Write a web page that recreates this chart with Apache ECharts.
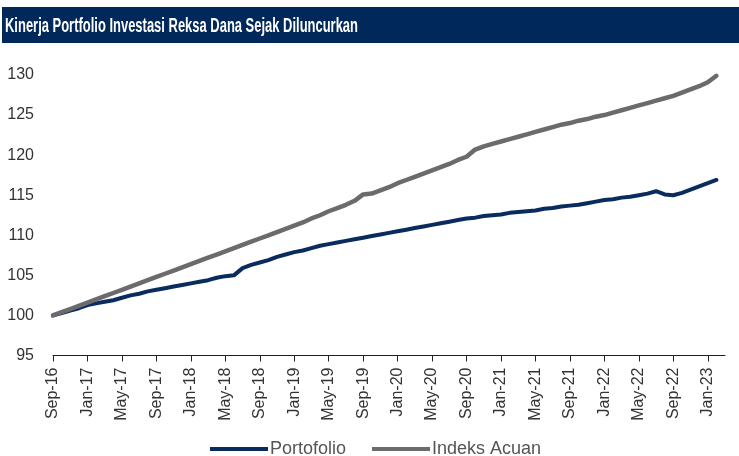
<!DOCTYPE html>
<html>
<head>
<meta charset="utf-8">
<script src="https://cdn.jsdelivr.net/npm/echarts@6/dist/echarts.min.js"></script>
<style>
    html, body { margin: 0; padding: 0; background: #fff; }
    #myChart { width: 739px; height: 456px; }
</style>
</head>
<body>
<div id="myChart"></div>
<script>
// monthly labels Sep-16 .. Mar-23
const months = ['Jan', 'Feb', 'Mar', 'Apr', 'May', 'Jun', 'Jul', 'Aug', 'Sep', 'Oct', 'Nov', 'Dec'];
const dates = [];
for (let i = 0; i < 79; i++) {
    const m = (8 + i) % 12;
    const y = 16 + Math.floor((8 + i) / 12);
    dates.push(months[m] + '-' + y);
}

const portofolio = [
    100.0, 100.3, 100.6, 100.9, 101.3, 101.5, 101.7, 101.9, 102.2, 102.5,
    102.7, 103.0, 103.2, 103.4, 103.6, 103.8, 104.0, 104.2, 104.4, 104.7,
    104.9, 105.0, 105.9, 106.3, 106.6, 106.9, 107.3, 107.6, 107.9, 108.1,
    108.4, 108.7, 108.9, 109.1, 109.3, 109.5, 109.7, 109.9, 110.1, 110.3,
    110.5, 110.7, 110.9, 111.1, 111.3, 111.5, 111.7, 111.9, 112.1, 112.2,
    112.4, 112.5, 112.6, 112.8, 112.9, 113.0, 113.1, 113.3, 113.4, 113.6,
    113.7, 113.8, 114.0, 114.2, 114.4, 114.5, 114.7, 114.8, 115.0, 115.2,
    115.5, 115.1, 115.0, 115.3, 115.7, 116.1, 116.5, 116.9
];

const indeksAcuan = [
    100.0, 100.4, 100.8, 101.2, 101.6, 102.0, 102.4, 102.8, 103.2, 103.6,
    104.0, 104.4, 104.8, 105.2, 105.6, 106.0, 106.4, 106.8, 107.2, 107.6,
    108.0, 108.4, 108.8, 109.2, 109.6, 110.0, 110.4, 110.8, 111.2, 111.6,
    112.1, 112.5, 113.0, 113.4, 113.8, 114.3, 115.1, 115.2, 115.6, 116.0,
    116.5, 116.9, 117.3, 117.7, 118.1, 118.5, 118.9, 119.4, 119.8, 120.7,
    121.1, 121.4, 121.7, 122.0, 122.3, 122.6, 122.9, 123.2, 123.5, 123.8,
    124.0, 124.3, 124.5, 124.8, 125.0, 125.3, 125.6, 125.9, 126.2, 126.5,
    126.8, 127.1, 127.4, 127.8, 128.2, 128.6, 129.1, 129.9
];

const titleText = 'Kinerja Portfolio Investasi Reksa Dana Sejak Diluncurkan';
const titleFont = 'bold 20px "Liberation Sans Narrow", "Liberation Sans", Arial';

// title is a condensed font, squeeze it to the reference width
const ctx = document.createElement('canvas').getContext('2d');
ctx.font = titleFont;
const titleScale = 353 / ctx.measureText(titleText).width;

const baseFont = '"Liberation Sans", Arial, sans-serif';

let myChart = echarts.init(document.getElementById('myChart'));
let option = {
    animation: false,
    backgroundColor: '#fff',
    graphic: [
        {
            type: 'rect',
            left: 2,
            top: 7,
            shape: { width: 737, height: 36 },
            style: { fill: '#00285a' }
        },
        {
            type: 'text',
            x: 5,
            y: 26,
            scaleX: titleScale,
            style: {
                text: titleText,
                font: titleFont,
                fill: '#fff',
                textVerticalAlign: 'middle'
            }
        }
    ],
    legend: {
        data: ['Portofolio', 'Indeks Acuan'],
        left: 205,
        top: 435,
        icon: 'rect',
        itemWidth: 58,
        itemHeight: 4,
        itemGap: 26,
        textStyle: {
            color: '#555',
            fontSize: 18,
            fontFamily: baseFont,
            padding: [0, 0, 0, -3]
        }
    },
    grid: {
        left: 53,
        right: 14,
        top: 75,
        bottom: 100.5
    },
    xAxis: {
        type: 'category',
        data: dates,
        boundaryGap: false,
        axisLine: { lineStyle: { color: '#222', width: 1 } },
        axisTick: { interval: 3, length: 6, lineStyle: { color: '#222' } },
        axisLabel: {
            interval: 3,
            rotate: 90,
            margin: 12,
            color: '#333',
            fontSize: 16,
            fontFamily: baseFont
        },
        splitLine: { show: false }
    },
    yAxis: {
        type: 'value',
        min: 95,
        max: 130,
        interval: 5,
        axisLine: { show: false },
        axisTick: { show: false },
        splitLine: { show: false },
        axisLabel: {
            margin: 19,
            color: '#333',
            fontSize: 16,
            fontFamily: baseFont
        }
    },
    series: [
        {
            name: 'Portofolio',
            type: 'line',
            symbol: 'none',
            data: portofolio,
            itemStyle: { color: '#0a2b5e' },
            lineStyle: { color: '#0a2b5e', width: 4, cap: 'round', join: 'round' }
        },
        {
            name: 'Indeks Acuan',
            type: 'line',
            symbol: 'none',
            data: indeksAcuan,
            itemStyle: { color: '#6b6b6d' },
            lineStyle: { color: '#6b6b6d', width: 4.5, cap: 'round', join: 'round' }
        }
    ]
};
myChart.setOption(option);
</script>
</body>
</html>
